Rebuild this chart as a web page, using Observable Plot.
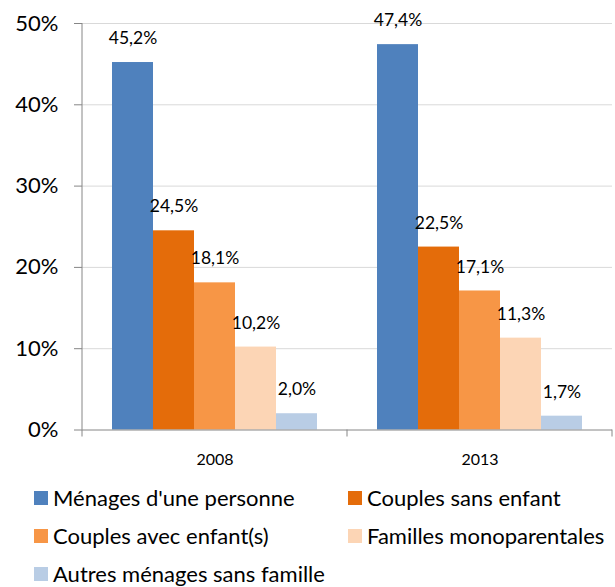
<!DOCTYPE html>
<html>
<head>
<meta charset="utf-8">
<script src="https://cdn.jsdelivr.net/npm/d3@7"></script>
<script src="https://cdn.jsdelivr.net/npm/@observablehq/plot@0.6"></script>
<style>
  html, body { margin: 0; padding: 0; background: #fff; }
  body { width: 615px; height: 587px; overflow: hidden; font-family: Lato, "Open Sans", sans-serif; }
  #chart svg { display: block; }
  .legend { display: grid; grid-template-columns: 314px auto; grid-auto-rows: 38px; padding-left: 34px; }
  .item { display: flex; align-items: center; font-size: 22px; line-height: 26px; color: #000; white-space: nowrap; }
  .sw { width: 14px; height: 14px; margin-right: 5px; flex: none; }
</style>
</head>
<body>
<div id="chart"></div>
<div class="legend" id="legend"></div>
<script>
const years = ["2008", "2013"];
const series = ["Ménages d'une personne", "Couples sans enfant", "Couples avec enfant(s)", "Familles monoparentales", "Autres ménages sans famille"];
const colors = ["#4F81BD", "#E46C0A", "#F79646", "#FCD5B5", "#B9CDE5"];
const values2008 = [45.2, 24.5, 18.1, 10.2, 2.0];
const values2013 = [47.4, 22.5, 17.1, 11.3, 1.7];
const yTicks = [0, 10, 20, 30, 40, 50];

const data = [];
series.forEach((s, i) => {
  data.push({year: years[0], series: s, value: values2008[i]});
  data.push({year: years[1], series: s, value: values2013[i]});
});
const fmt = v => d3.format(".1f")(v).replace(".", ",") + "%";

const chart = Plot.plot({
  width: 615,
  height: 479,
  marginLeft: 82,
  marginRight: 3,
  marginTop: 23,
  marginBottom: 49.5,
  style: {fontFamily: "Lato, 'Open Sans', sans-serif", background: "#fff", color: "#000"},
  fx: {domain: years, padding: 0, axis: null, label: null},
  x: {domain: series, paddingInner: 0, paddingOuter: 0.73, axis: null},
  y: {domain: [0, 50], axis: null, label: null},
  color: {domain: series, range: colors},
  marks: [
    Plot.gridY(yTicks.filter(d => d > 0), {stroke: "#D9D9D9", strokeOpacity: 1}),
    Plot.barY(data, {fx: "year", x: "series", y: "value", fill: "series"}),
    Plot.ruleY([0], {stroke: "#868686"}),
    Plot.text(data, {fx: "year", x: "series", y: "value", text: d => fmt(d.value), dy: -24, fontSize: 17.5, fill: "#000"}),
    Plot.axisY({anchor: "left", ticks: yTicks, tickFormat: d => d + "%", tickSize: 8, tickPadding: 16, fontSize: 22, stroke: "#868686", fill: "#000", label: null}),
    Plot.axisFx({anchor: "bottom", tickSize: 0, tickPadding: 24, fontSize: 16, fill: "#000", label: null})
  ]
});
document.getElementById("chart").appendChild(chart);

// axis line and category boundary ticks, positioned from the plot's own scales
const svg = d3.select(chart);
const fxs = chart.scale("fx"), ys = chart.scale("y");
const yb = ys.apply(0), yt = ys.apply(50);
const bw = fxs.bandwidth;
const xl = fxs.apply(years[0]);
svg.append("line").attr("x1", xl).attr("x2", xl).attr("y1", yt).attr("y2", yb).attr("stroke", "#868686");
const edges = years.map(y => fxs.apply(y)).concat([fxs.apply(years[years.length - 1]) + bw]);
edges.forEach(x => {
  svg.append("line").attr("x1", x).attr("x2", x).attr("y1", yb).attr("y2", yb + 7).attr("stroke", "#868686");
});

const legend = document.getElementById("legend");
series.forEach((s, i) => {
  const it = document.createElement("div");
  it.className = "item";
  it.innerHTML = `<span class="sw" style="background:${colors[i]}"></span><span>${s}</span>`;
  legend.appendChild(it);
});
</script>
</body>
</html>
